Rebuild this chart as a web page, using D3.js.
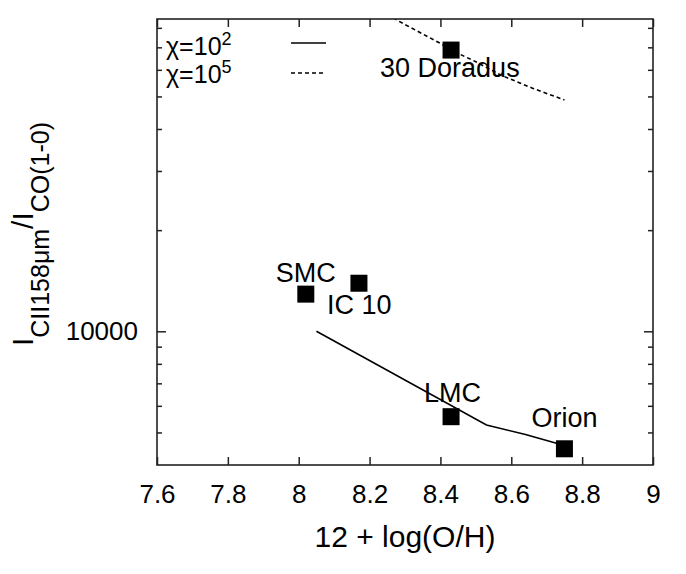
<html>
<head>
	<meta http-equiv="Content-Type" content="text/html; charset=utf-8" />
	<script src="https://cdn.jsdelivr.net/npm/d3@7/dist/d3.min.js" charset="utf-8"></script>
	<style type="text/css">
	body {
		background-color: #FFFFFF;
		margin: 0;
	}
	text {
		font-family: "Liberation Sans", Arial, Helvetica, sans-serif;
		fill: #000;
	}
	</style>
</head>
<body>

	<svg id="chart" width="686" height="574" version="1.1" xmlns="http://www.w3.org/2000/svg"></svg>

	<script type="text/javascript">
		/* data */
		var v_Names    = ["SMC" ,"IC 10" ,"30 Doradus" ,"LMC" ,"Orion"];
		var v_OH       = [8.02 ,8.17 ,8.43 ,8.43 ,8.75];
		var v_Ratio    = [12900 ,13900 ,68700 ,5570 ,4470];

		var v_ModelX2  = [8.05 ,8.53 ,8.64 ,8.74];
		var v_ModelY2  = [10000 ,5260 ,4930 ,4600];

		var v_ModelX5  = [8.20 ,8.28 ,8.40 ,8.43 ,8.50 ,8.57 ,8.66 ,8.75];
		var v_ModelY5  = [95000 ,84000 ,71900 ,68700 ,63400 ,57900 ,52900 ,48800];

		var v_XTicks      = [7.6 ,7.8 ,8 ,8.2 ,8.4 ,8.6 ,8.8 ,9];
		var v_YMajorTicks = [10000];
		var v_YMinorTicks = [5000 ,6000 ,7000 ,8000 ,9000 ,20000 ,30000 ,40000 ,50000 ,60000 ,70000 ,80000];

		var v_Left   = 157;
		var v_Top    = 19;
		var v_Width  = 496;
		var v_Height = 446;

		var v_SVG = d3.select("#chart");

		var v_X = d3.scaleLinear().domain([7.6 ,9]).range([0 ,v_Width]);
		var v_Y = d3.scaleLog().domain([4000 ,85000]).range([v_Height ,0]);

		var v_G = v_SVG.append("g").attr("transform" ,"translate(" + v_Left + "," + v_Top + ")");

		v_SVG.append("defs").append("clipPath").attr("id" ,"plotClip")
		.append("rect").attr("x" ,0).attr("y" ,0).attr("width" ,v_Width).attr("height" ,v_Height);

		/* axes, ticks pointing inward */
		function styleAxis(g)
		{
			g.select(".domain").remove();
			g.selectAll(".tick line").attr("stroke" ,"#222").attr("stroke-width" ,1.5);
			g.selectAll(".tick text").attr("font-size" ,"26px").attr("fill" ,"#000");
		}

		v_G.append("g")
		.attr("transform" ,"translate(0," + v_Height + ")")
		.call(d3.axisBottom(v_X).tickValues(v_XTicks).tickSizeInner(-8).tickSizeOuter(0).tickPadding(19.5)
			.tickFormat(function(d) { return d3.format("")(d); }))
		.call(styleAxis);

		v_G.append("g")
		.call(d3.axisTop(v_X).tickValues(v_XTicks).tickSizeInner(-8).tickSizeOuter(0).tickFormat(""))
		.call(styleAxis);

		v_G.append("g")
		.call(d3.axisLeft(v_Y).tickValues(v_YMajorTicks).tickSizeInner(-9).tickSizeOuter(0).tickPadding(19)
			.tickFormat(d3.format("d")))
		.call(styleAxis);

		v_G.append("g")
		.call(d3.axisLeft(v_Y).tickValues(v_YMinorTicks).tickSizeInner(-5).tickSizeOuter(0).tickFormat(""))
		.call(styleAxis);

		v_G.append("g")
		.attr("transform" ,"translate(" + v_Width + ",0)")
		.call(d3.axisRight(v_Y).tickValues(v_YMajorTicks).tickSizeInner(-9).tickSizeOuter(0).tickFormat(""))
		.call(styleAxis);

		v_G.append("g")
		.attr("transform" ,"translate(" + v_Width + ",0)")
		.call(d3.axisRight(v_Y).tickValues(v_YMinorTicks).tickSizeInner(-5).tickSizeOuter(0).tickFormat(""))
		.call(styleAxis);

		/* model curves */
		var v_Line = d3.line()
		.x(function(d) { return v_X(d[0]); })
		.y(function(d) { return v_Y(d[1]); });

		v_G.append("path")
		.attr("d" ,v_Line(d3.zip(v_ModelX2 ,v_ModelY2)))
		.attr("fill" ,"none")
		.attr("stroke" ,"#000")
		.attr("stroke-width" ,1.6);

		v_G.append("path")
		.attr("clip-path" ,"url(#plotClip)")
		.attr("d" ,v_Line(d3.zip(v_ModelX5 ,v_ModelY5)))
		.attr("fill" ,"none")
		.attr("stroke" ,"#000")
		.attr("stroke-width" ,1.6)
		.attr("stroke-dasharray" ,"4,3");

		/* observed points */
		var v_Points = d3.zip(v_OH ,v_Ratio ,v_Names);
		var v_Size   = 17;

		v_G.selectAll("rect.pt")
		.data(v_Points)
		.enter()
		.append("rect")
		.attr("class" ,"pt")
		.attr("x" ,function(d) { return v_X(d[0]) - v_Size / 2; })
		.attr("y" ,function(d) { return v_Y(d[1]) - v_Size / 2; })
		.attr("width" ,v_Size)
		.attr("height" ,v_Size)
		.attr("fill" ,"#000");

		/* label offsets from each square (px) */
		var v_LabelDX = [-30 ,-32 ,-71 ,-27 ,-33];
		var v_LabelDY = [-12 ,31 ,27 ,-15 ,-22];

		v_G.selectAll("text.lbl")
		.data(v_Points)
		.enter()
		.append("text")
		.attr("class" ,"lbl")
		.attr("x" ,function(d ,i) { return v_X(d[0]) + v_LabelDX[i]; })
		.attr("y" ,function(d ,i) { return v_Y(d[1]) + v_LabelDY[i]; })
		.attr("font-size" ,"27px")
		.text(function(d) { return d[2]; });

		/* frame */
		v_G.append("rect")
		.attr("x" ,0).attr("y" ,0)
		.attr("width" ,v_Width).attr("height" ,v_Height)
		.attr("fill" ,"none")
		.attr("stroke" ,"#222")
		.attr("stroke-width" ,1.6);

		/* legend */
		var v_Legend = [
			{"exp": "2" ,"dash": null},
			{"exp": "5" ,"dash": "4,3"}
		];

		v_Legend.forEach(function(d ,i)
		{
			var v_Base = 55 + i * 28;
			var v_T = v_SVG.append("text")
			.attr("x" ,166)
			.attr("y" ,v_Base)
			.attr("font-size" ,"25px");
			v_T.append("tspan").text("χ=10");
			v_T.append("tspan").attr("dy" ,-10).attr("font-size" ,"18px").text(d.exp);

			v_SVG.append("line")
			.attr("x1" ,291).attr("x2" ,326)
			.attr("y1" ,v_Base - 12 + i * 2).attr("y2" ,v_Base - 12 + i * 2)
			.attr("stroke" ,"#000")
			.attr("stroke-width" ,1.6)
			.attr("stroke-dasharray" ,d.dash);
		});

		/* axis titles */
		v_SVG.append("text")
		.attr("x" ,v_Left + v_Width / 2)
		.attr("y" ,547)
		.attr("text-anchor" ,"middle")
		.attr("font-size" ,"30px")
		.text("12 + log(O/H)");

		var v_YT = v_SVG.append("text")
		.attr("transform" ,"translate(33,234) rotate(-90)")
		.attr("text-anchor" ,"middle")
		.attr("font-size" ,"30px");
		v_YT.append("tspan").text("I");
		v_YT.append("tspan").attr("dy" ,16).attr("font-size" ,"25px").text("CII158μm");
		v_YT.append("tspan").attr("dy" ,-16).text("/I");
		v_YT.append("tspan").attr("dy" ,16).attr("font-size" ,"25px").text("CO(1-0)");
	</script>

</body>
</html>
